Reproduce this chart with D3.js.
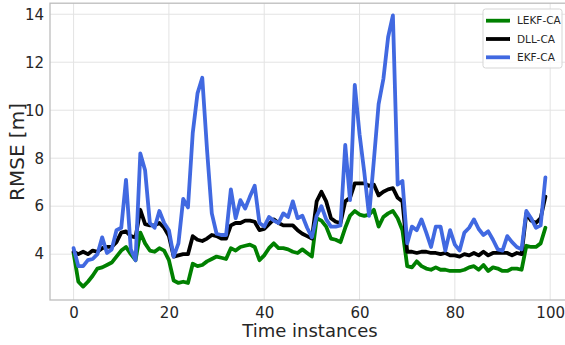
<!DOCTYPE html>
<html>
<head>
<meta charset="utf-8">
<script src="https://cdn.jsdelivr.net/npm/d3@7/dist/d3.min.js"></script>
<style>
  html, body { margin: 0; padding: 0; background: #fff; }
  svg { display: block; font-family: "DejaVu Sans", sans-serif; }
</style>
</head>
<body>
<svg id="chart" width="565" height="345"></svg>
<script>
// Time instances 0..99
const timeSteps = d3.range(0, 100);

// RMSE [m] per time instance
const lekfCA = [
  4.05, 2.85, 2.65, 2.85, 3.1, 3.4, 3.45, 3.55, 3.65, 3.9,
  4.15, 4.3, 4.0, 3.75, 4.9, 4.45, 4.15, 4.1, 4.25, 4.15,
  3.75, 2.9, 2.8, 2.85, 2.8, 3.6, 3.5, 3.55, 3.7, 3.8,
  3.9, 3.85, 3.8, 4.25, 4.15, 4.3, 4.35, 4.4, 4.3, 3.75,
  3.95, 4.25, 4.45, 4.25, 4.25, 4.2, 4.1, 4.05, 4.2, 4.05,
  3.9, 5.5, 5.4, 5.15, 4.65, 4.6, 4.5, 5.1, 5.6, 5.8,
  5.65, 5.6, 5.65, 5.85, 5.15, 5.55, 5.7, 5.8, 5.5, 5.0,
  3.5, 3.45, 3.7, 3.5, 3.4, 3.35, 3.45, 3.35, 3.35, 3.3,
  3.3, 3.3, 3.35, 3.45, 3.5, 3.35, 3.55, 3.3, 3.45, 3.4,
  3.3, 3.3, 3.4, 3.4, 3.35, 4.35, 4.3, 4.3, 4.45, 5.1
];

const dllCA = [
  4.1, 4.0, 4.1, 4.0, 4.15, 4.1, 4.25, 4.3, 4.3, 4.5,
  4.9, 4.95, 4.75, 4.7, 5.85, 5.25, 5.2, 5.2, 5.3, 5.1,
  4.75, 3.9, 3.95, 4.0, 4.0, 4.75, 4.6, 4.55, 4.65, 4.8,
  4.75, 4.65, 4.65, 5.2, 5.3, 5.3, 5.4, 5.4, 5.35, 5.0,
  5.05, 5.25, 5.45, 5.3, 5.2, 5.2, 5.2, 5.0, 4.85, 4.75,
  4.65, 6.2, 6.6, 6.2, 5.5, 5.35, 5.3, 6.2, 6.35, 6.95,
  6.95, 6.95, 6.85, 6.9, 6.45, 6.6, 6.7, 6.75, 6.35, 6.2,
  4.1, 4.1, 4.05, 4.1, 4.1, 4.05, 4.05, 4.0, 4.05, 3.95,
  3.95, 3.9, 4.0, 3.95, 4.05, 3.95, 4.1, 3.95, 4.05, 4.05,
  4.05, 4.05, 3.95, 4.05, 4.0, 5.7, 5.4, 5.3, 5.5, 6.4
];

const ekfCA = [
  4.25, 3.5, 3.5, 3.75, 3.8, 4.0, 4.7, 4.05, 4.2, 5.0,
  5.1, 7.1, 4.2, 3.75, 8.2, 7.5, 5.3, 5.1, 5.8, 5.3,
  5.0, 3.9, 4.45, 6.3, 5.95, 9.05, 10.7, 11.35, 8.35, 5.7,
  4.85, 4.8, 4.8, 6.7, 5.5, 6.25, 5.9, 6.4, 6.85, 5.3,
  5.15, 5.55, 5.4, 5.3, 5.7, 5.55, 6.2, 5.5, 5.6, 5.1,
  4.7, 5.6, 6.0, 5.45, 5.15, 5.15, 5.2, 8.55, 6.25, 11.05,
  9.0, 7.4, 5.6, 7.9, 10.25, 11.3, 13.05, 13.95, 6.9, 7.05,
  4.45, 5.15, 5.0, 5.45, 4.9, 4.3, 5.15, 5.15, 4.15, 5.0,
  4.4, 4.15, 4.9, 5.1, 5.45, 5.05, 4.8, 4.95, 4.6, 4.2,
  4.15, 4.75, 4.5, 4.3, 4.2, 5.8, 5.5, 5.1, 5.2, 7.2
];

const seriesNames = ["LEKF-CA", "DLL-CA", "EKF-CA"];
const seriesColors = ["#008000", "#000000", "#4169e1"];
const seriesValues = [lekfCA, dllCA, ekfCA];

const xTicks = [0, 20, 40, 60, 80, 100];
const yTicks = [4, 6, 8, 10, 12, 14];

const svg = d3.select("#chart");
const W = 565, H = 345;
const plot = { left: 50, top: 3.2, right: 569, bottom: 300 };

const x = d3.scaleLinear().domain([-4.95, 103.95]).range([plot.left, plot.right]);
const y = d3.scaleLinear().domain([2.09, 14.46]).range([plot.bottom, plot.top]);

svg.append("rect").attr("width", W).attr("height", H).attr("fill", "#fff");

svg.append("defs").append("clipPath").attr("id", "plot-clip")
  .append("rect")
  .attr("x", plot.left).attr("y", plot.top)
  .attr("width", plot.right - plot.left).attr("height", plot.bottom - plot.top);

// grid
const grid = svg.append("g").attr("stroke", "#e3e3e3").attr("stroke-width", 1);
grid.selectAll("line.gx").data(xTicks).join("line")
  .attr("x1", d => x(d)).attr("x2", d => x(d))
  .attr("y1", plot.top).attr("y2", plot.bottom);
grid.selectAll("line.gy").data(yTicks).join("line")
  .attr("x1", plot.left).attr("x2", plot.right)
  .attr("y1", d => y(d)).attr("y2", d => y(d));

// axes (labels only, no tick marks)
const xAxis = svg.append("g")
  .attr("transform", `translate(0,${plot.bottom})`)
  .call(d3.axisBottom(x).tickValues(xTicks).tickSize(0).tickPadding(7));
const yAxis = svg.append("g")
  .attr("transform", `translate(${plot.left},0)`)
  .call(d3.axisLeft(y).tickValues(yTicks).tickSize(0).tickPadding(6));
[xAxis, yAxis].forEach(a => {
  a.select(".domain").remove();
  a.selectAll("text")
    .attr("font-family", "DejaVu Sans, sans-serif")
    .attr("font-size", 15)
    .attr("fill", "#262626");
});

// series lines
const line = d3.line()
  .x((d, i) => x(timeSteps[i]))
  .y(d => y(d));

const lines = svg.append("g").attr("clip-path", "url(#plot-clip)");
seriesValues.forEach((vals, k) => {
  lines.append("path")
    .datum(vals)
    .attr("d", line)
    .attr("fill", "none")
    .attr("stroke", seriesColors[k])
    .attr("stroke-width", 3.8)
    .attr("stroke-linejoin", "round")
    .attr("stroke-linecap", "round");
});

// frame
svg.append("rect")
  .attr("x", plot.left).attr("y", plot.top)
  .attr("width", plot.right - plot.left).attr("height", plot.bottom - plot.top)
  .attr("fill", "none").attr("stroke", "#bdbdbd").attr("stroke-width", 1.3);

// axis titles
svg.append("text")
  .attr("x", 310).attr("y", 337)
  .attr("text-anchor", "middle")
  .attr("font-size", 18)
  .attr("fill", "#262626")
  .text("Time instances");

svg.append("text")
  .attr("transform", "translate(24,152) rotate(-90)")
  .attr("text-anchor", "middle")
  .attr("font-size", 20)
  .attr("fill", "#262626")
  .text("RMSE [m]");

// legend
const lg = svg.append("g").attr("transform", "translate(483,9)");
lg.append("rect")
  .attr("width", 79).attr("height", 59).attr("rx", 2.5)
  .attr("fill", "#fff").attr("fill-opacity", 0.85)
  .attr("stroke", "#d5d5d5").attr("stroke-width", 1);
seriesNames.forEach((name, k) => {
  const row = lg.append("g").attr("transform", `translate(0,${11.7 + k * 18.3})`);
  row.append("line")
    .attr("x1", 3).attr("x2", 27)
    .attr("stroke", seriesColors[k]).attr("stroke-width", 3.8);
  row.append("text")
    .attr("x", 34).attr("y", 0).attr("dy", "0.35em")
    .attr("font-size", 10.5).attr("fill", "#262626")
    .text(name);
});
</script>
</body>
</html>
